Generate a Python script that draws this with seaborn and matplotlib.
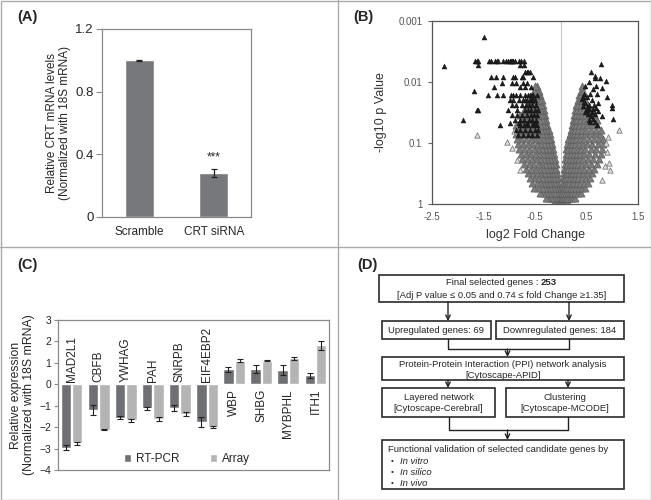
import numpy as np
import pandas as pd
import matplotlib
matplotlib.use('Agg')
import matplotlib.pyplot as plt
import seaborn as sns
from matplotlib.patches import Rectangle

sns.set_style('white')
plt.rcParams['font.family'] = ['Liberation Sans', 'DejaVu Sans']

# ---- panel A : CRT knockdown
a_groups = ['Scramble', 'CRT siRNA']
a_values = [1.0, 0.28]
a_err = [0.003, 0.025]

# ---- panel B : volcano plot (x = log2 fold change, y = -log10 p)
# significant genes (dark triangles)
sig_x = [-1.49, -2.26, -1.89, -1.61, -1.68,
         -1.67, -1.63, -1.60, -1.39, -1.35, -1.28, -1.24, -1.21, -1.12, -1.06, -1.02, -0.99, -0.97, -0.95,
         -0.93, -0.89, -0.82, -0.78, -0.71,
         -1.60, -0.80, -0.71,
         -0.69, -0.66, -0.63, -0.60,
         -1.36, -1.26, -1.12, -0.92, -0.89, -0.76, -0.73, -0.53,
         -1.15, -0.95, -0.86, -0.74, -0.65,
         -1.30, -0.79, -0.69, -0.58,
         -1.41, -1.23, -1.13, -0.97, -0.93, -0.86, -0.79, -0.69, -0.63, -0.60, -0.56, -0.53, -0.47,
         -0.99, -0.92, -0.81, -0.73, -0.70, -0.66, -0.60, -0.56, -0.53, -0.50,
         -0.95, -0.86, -0.76, -0.68, -0.62, -0.55, -0.49,
         -1.62, -1.02, -0.84, -0.69, -0.63, -0.57, -0.50, -0.45,
         -0.95, -0.84, -0.76, -0.66, -0.58, -0.51, -0.47,
         -0.88, -0.79, -0.71, -0.62, -0.55, -0.48,
         -0.99, -0.82, -0.66, -0.53, -0.50,
         -1.17, -0.79, -0.71, -0.63, -0.53, -0.47,
         -0.86, -0.79, -0.70, -0.60, -0.50, -0.44,
         -0.83, -0.73, -0.64, -0.56, -0.47,
         0.78, 0.59, 0.67, 0.76, 0.87, 0.47, 0.68, 0.46, 0.57, 0.70, 0.89, 0.41, 0.47, 0.54, 0.73,
         0.99, 0.50, 0.60, 0.67, 0.80, 1.02, 0.70, 0.54, 0.99, 0.44, 0.50, 0.55, 0.48, 0.58, 0.62,
         0.52, 0.63, 0.57, 0.66, 0.45, 0.60, 0.64, 0.73, 0.68, 0.50, 0.43, 0.62, 0.66, 0.55, 0.80]
sig_nlp = [2.73, 2.26, 1.37, 1.54, 1.86,
           2.34, 2.34, 2.34, 2.34, 2.34, 2.34, 2.34, 2.34, 2.34, 2.34, 2.34, 2.34, 2.34, 2.34,
           2.34, 2.34, 2.34, 2.34, 2.34,
           2.28, 2.28, 2.28,
           2.17, 2.17, 2.17, 2.17,
           2.08, 2.08, 2.08, 2.08, 2.08, 2.08, 2.08, 2.08,
           1.99, 1.99, 1.99, 1.99, 1.99,
           1.91, 1.91, 1.91, 1.91,
           1.79, 1.79, 1.79, 1.79, 1.79, 1.79, 1.79, 1.79, 1.79, 1.79, 1.79, 1.79, 1.79,
           1.70, 1.70, 1.70, 1.70, 1.70, 1.70, 1.70, 1.70, 1.70, 1.70,
           1.62, 1.62, 1.62, 1.62, 1.62, 1.62, 1.62,
           1.54, 1.54, 1.54, 1.54, 1.54, 1.54, 1.54, 1.54,
           1.46, 1.46, 1.46, 1.46, 1.46, 1.46, 1.46,
           1.38, 1.38, 1.38, 1.38, 1.38, 1.38,
           1.33, 1.33, 1.33, 1.33, 1.33,
           1.29, 1.29, 1.29, 1.29, 1.29, 1.29,
           1.21, 1.21, 1.21, 1.21, 1.21, 1.21,
           1.13, 1.13, 1.13, 1.13, 1.13,
           2.30, 2.17, 2.06, 2.06, 2.02, 1.94, 1.94, 1.81, 1.81, 1.81, 1.76, 1.72, 1.66, 1.63, 1.66,
           1.63, 1.54, 1.51, 1.48, 1.44, 1.39, 1.30, 1.38, 1.58, 1.60, 1.58, 1.56, 1.50, 1.45, 1.55,
           1.47, 1.40, 1.35, 1.34, 1.68, 1.70, 1.62, 1.52, 1.57, 1.75, 1.76, 1.89, 2.10, 2.00, 1.90]

# non-significant genes: one row of x positions per -log10 p level
gray_nlp = [0.03, 0.10, 0.18, 0.26, 0.34, 0.42, 0.50, 0.58, 0.66, 0.74, 0.82, 0.90, 0.98,
            1.06, 1.14, 1.22, 1.30, 1.38, 1.46, 1.54, 1.62, 1.70, 1.78, 1.86, 1.94]
gray_left = [
    [-0.01, -0.03, -0.05, -0.07, -0.10, -0.13],
    [-0.02, -0.05, -0.08, -0.11, -0.15, -0.19, -0.24, -0.29],
    [-0.03, -0.06, -0.10, -0.14, -0.18, -0.23, -0.28, -0.34, -0.41],
    [-0.04, -0.08, -0.12, -0.16, -0.21, -0.26, -0.31, -0.37, -0.44, -0.52],
    [-0.05, -0.09, -0.13, -0.18, -0.23, -0.28, -0.34, -0.40, -0.47, -0.56],
    [-0.06, -0.10, -0.15, -0.20, -0.25, -0.31, -0.37, -0.44, -0.51, -0.60],
    [-0.08, -0.12, -0.17, -0.22, -0.27, -0.33, -0.40, -0.47, -0.55, -0.64],
    [-0.09, -0.13, -0.18, -0.23, -0.29, -0.35, -0.42, -0.50, -0.58, -0.68],
    [-0.10, -0.14, -0.19, -0.25, -0.31, -0.38, -0.45, -0.53, -0.62, -0.72],
    [-0.12, -0.16, -0.21, -0.27, -0.33, -0.40, -0.48, -0.56, -0.65, -0.75],
    [-0.13, -0.18, -0.23, -0.29, -0.35, -0.42, -0.50, -0.59, -0.68, -0.78],
    [-0.15, -0.20, -0.25, -0.31, -0.37, -0.44, -0.52, -0.61, -0.71, -0.81],
    [-0.17, -0.21, -0.27, -0.33, -0.40, -0.47, -0.55, -0.64, -0.74, -0.83],
    [-0.19, -0.23, -0.29, -0.35, -0.42, -0.50, -0.58, -0.67, -0.77, -0.85],
    [-0.21, -0.26, -0.31, -0.37, -0.44, -0.52, -0.60, -0.70, -0.80, -0.87],
    [-0.23, -0.28, -0.33, -0.39, -0.46, -0.54, -0.63, -0.73, -0.83],
    [-0.26, -0.30, -0.35, -0.41, -0.48, -0.56, -0.65, -0.75, -0.86],
    [-0.28, -0.32, -0.37, -0.43, -0.50, -0.58, -0.67, -0.77],
    [-0.30, -0.34, -0.39, -0.45, -0.52, -0.60, -0.69, -0.80],
    [-0.32, -0.36, -0.41, -0.47, -0.54, -0.62, -0.72],
    [-0.35, -0.39, -0.44, -0.50, -0.57, -0.65],
    [-0.37, -0.41, -0.46, -0.52, -0.60],
    [-0.40, -0.44, -0.49, -0.55],
    [-0.43, -0.47, -0.52],
    [-0.46, -0.50]]
gray_right = [
    [0.01, 0.03, 0.05, 0.08, 0.11, 0.14],
    [0.02, 0.05, 0.08, 0.11, 0.15, 0.19, 0.23, 0.28],
    [0.03, 0.06, 0.10, 0.14, 0.18, 0.22, 0.27, 0.33, 0.39],
    [0.04, 0.07, 0.11, 0.15, 0.19, 0.24, 0.29, 0.35, 0.42, 0.47],
    [0.04, 0.08, 0.12, 0.16, 0.21, 0.26, 0.32, 0.38, 0.45, 0.53],
    [0.05, 0.09, 0.13, 0.18, 0.23, 0.28, 0.34, 0.41, 0.49, 0.57],
    [0.06, 0.10, 0.14, 0.19, 0.24, 0.30, 0.36, 0.43, 0.51, 0.60],
    [0.07, 0.11, 0.15, 0.20, 0.26, 0.32, 0.38, 0.46, 0.55, 0.65],
    [0.08, 0.12, 0.17, 0.22, 0.28, 0.34, 0.41, 0.49, 0.58, 0.70],
    [0.09, 0.13, 0.18, 0.23, 0.29, 0.36, 0.44, 0.52, 0.62, 0.74],
    [0.10, 0.14, 0.19, 0.25, 0.31, 0.38, 0.46, 0.55, 0.66, 0.78],
    [0.11, 0.15, 0.20, 0.26, 0.33, 0.40, 0.48, 0.58, 0.69, 0.80],
    [0.13, 0.17, 0.22, 0.28, 0.35, 0.43, 0.51, 0.61, 0.72, 0.82],
    [0.15, 0.19, 0.24, 0.30, 0.37, 0.45, 0.54, 0.64, 0.75, 0.83],
    [0.17, 0.21, 0.26, 0.32, 0.39, 0.47, 0.56, 0.66, 0.76],
    [0.19, 0.23, 0.28, 0.34, 0.41, 0.49, 0.58, 0.68, 0.78],
    [0.21, 0.25, 0.30, 0.36, 0.43, 0.51, 0.60, 0.70],
    [0.23, 0.27, 0.32, 0.38, 0.45, 0.53, 0.62, 0.71],
    [0.26, 0.30, 0.35, 0.41, 0.48, 0.56, 0.64],
    [0.28, 0.32, 0.37, 0.43, 0.50, 0.58],
    [0.30, 0.34, 0.39, 0.45, 0.52],
    [0.33, 0.37, 0.42, 0.48],
    [0.36, 0.40, 0.45],
    [0.39, 0.43],
    [0.42]]
# scattered non-significant outliers (open triangles)
out_x = [-1.63, -1.05, -0.90, -0.95, -0.85, -0.80, 1.14, 0.93, 0.95, 0.90, 0.87, 0.92, 0.85, 0.80]
out_nlp = [1.13, 1.02, 1.20, 0.92, 0.72, 0.55, 1.22, 0.67, 0.55, 0.85, 1.00, 1.10, 0.62, 0.40]

# ---- panel C : validation RT-PCR vs array
c_genes = ['MAD2L1', 'CBFB', 'YWHAG', 'PAH', 'SNRPB', 'EIF4EBP2', 'WBP', 'SHBG', 'MYBPHL', 'ITH1']
c_rtpcr = [-2.95, -1.2, -1.55, -1.12, -1.1, -1.75, 0.7, 0.7, 0.67, 0.42]
c_rtpcr_err = [0.1, 0.22, 0.06, 0.07, 0.15, 0.22, 0.13, 0.18, 0.22, 0.12]
c_array = [-2.75, -2.12, -1.68, -1.6, -1.37, -2.0, 1.09, 1.1, 1.21, 1.82]
c_array_err = [0.07, 0.03, 0.08, 0.09, 0.1, 0.06, 0.07, 0.02, 0.08, 0.2]

# ---- panel D : workflow text
d_title = 'Final selected genes :'
d_count = '253'
d_criteria = '[Adj P value \u2264 0.05 and 0.74 \u2264 fold Change \u22651.35]'
d_up = 'Upregulated genes: 69'
d_down = 'Downregulated genes: 184'
d_ppi = ['Protein-Protein Interaction (PPI) network analysis', '[Cytoscape-APID]']
d_layer = ['Layered network', '[Cytoscape-Cerebral]']
d_clust = ['Clustering', '[Cytoscape-MCODE]']
d_valid = 'Functional validation of selected candidate genes by'
d_methods = ['In vitro', 'In silico', 'In vivo']

DARK = '#6f7073'
LIGHT = '#b4b4b4'
FRAME = '#8a8a8a'

fig = plt.figure(figsize=(6.51, 5.0), dpi=100)

# ================= A
axA = fig.add_axes([102/651, 1-217/500, 149/651, 188/500])
dfA = pd.DataFrame({'group': a_groups, 'value': a_values})
sns.barplot(data=dfA, x='group', y='value', color='#77787b', width=0.39,
            errorbar=None, saturation=1, ax=axA)
axA.errorbar(range(len(a_groups)), a_values, yerr=a_err, fmt='none',
             ecolor='#222222', elinewidth=0.9, capsize=2.5, capthick=0.9)
axA.text(1, a_values[1] + a_err[1] + 0.035, '***', ha='center', va='bottom', fontsize=8.5)
axA.set_ylim(0, 1.2)
axA.set_xlim(-0.5, 1.5)
axA.set_yticks([0, 0.4, 0.8, 1.2])
axA.set_yticklabels(['0', '0.4', '0.8', '1.2'])
axA.tick_params(axis='y', left=True, length=4, color=FRAME, labelsize=9.5, pad=2)
axA.tick_params(axis='x', bottom=False, labelsize=8.5, pad=3)
axA.set_xlabel('')
axA.set_ylabel('Relative CRT mRNA levels\n(Normalized with 18S mRNA)', fontsize=8.5,
               labelpad=3, linespacing=1.15)
for s in axA.spines.values():
    s.set_color(FRAME)
    s.set_linewidth(0.9)

# ================= B
axB = fig.add_axes([432/651, 1-204/500, 206/651, 183/500])
rows = []
for nlp, lx, rx in zip(gray_nlp, gray_left, gray_right):
    for x in lx + rx:
        rows.append((x, nlp))
dfGray = pd.DataFrame(rows, columns=['fc', 'nlp'])
dfOut = pd.DataFrame({'fc': out_x, 'nlp': out_nlp})
dfSig = pd.DataFrame({'fc': sig_x, 'nlp': sig_nlp})
axB.axvline(0, color='#c8c8c8', lw=0.8, zorder=0)
sns.scatterplot(data=dfGray, x='fc', y='nlp', marker='^', s=26, color='#7c7c7c',
                edgecolor='#5e5e5e', linewidth=0.5, ax=axB, zorder=2)
sns.scatterplot(data=dfOut, x='fc', y='nlp', marker='^', s=15, color='#e0e0e0',
                edgecolor='#7a7a7a', linewidth=0.6, ax=axB, zorder=2)
sns.scatterplot(data=dfSig, x='fc', y='nlp', marker='^', s=13, color='#1e1e1e',
                edgecolor='#111111', linewidth=0.3, ax=axB, zorder=3)
axB.set_xlim(-2.5, 1.5)
axB.set_ylim(0, 3)
axB.set_xticks([-2.5, -1.5, -0.5, 0.5, 1.5])
axB.set_xticklabels(['-2.5', '-1.5', '-0.5', '0.5', '1.5'])
axB.set_yticks([0, 1, 2, 3])
axB.set_yticklabels(['1', '0.1', '0.01', '0.001'])
axB.tick_params(axis='both', labelsize=7, labelcolor='#555555', length=0, pad=6)
axB.tick_params(axis='y', left=True, length=3, color='#666666', pad=4)
axB.set_xlabel('log2 Fold Change', fontsize=9, color='#333333', labelpad=5)
axB.set_ylabel('-log10 p Value', fontsize=9, color='#333333', labelpad=8)
for s in axB.spines.values():
    s.set_color('#555555')
    s.set_linewidth(0.9)

# ================= C
axC = fig.add_axes([58/651, 1-470/500, 271/651, 150/500])
dfC = pd.DataFrame({
    'gene': c_genes * 2,
    'value': c_rtpcr + c_array,
    'method': ['RT-PCR'] * len(c_genes) + ['Array'] * len(c_genes)})
sns.barplot(data=dfC, x='gene', y='value', hue='method', palette=[DARK, LIGHT],
            width=0.84, gap=0.08, errorbar=None, saturation=1, ax=axC)
for cont, vals, err in zip(axC.containers, [c_rtpcr, c_array], [c_rtpcr_err, c_array_err]):
    xs = [b.get_x() + b.get_width() / 2 for b in cont]
    axC.errorbar(xs, vals, yerr=err, fmt='none', ecolor='#222222',
                 elinewidth=0.8, capsize=2, capthick=0.8)
for i, (g, v) in enumerate(zip(c_genes, c_rtpcr)):
    if v < 0:
        axC.text(i, 0.12, g, rotation=90, ha='center', va='bottom', fontsize=8.5)
    else:
        axC.text(i, -0.22, g, rotation=90, ha='center', va='top', fontsize=8.5)
axC.set_ylim(-4, 3)
axC.set_xlim(-0.5, 9.5)
axC.set_yticks(range(-4, 4))
axC.tick_params(axis='y', left=True, length=3, color=FRAME, labelsize=7.5, pad=2)
axC.set_xticks([])
axC.set_xlabel('')
axC.set_ylabel('Relative expression\n(Normalized with 18S mRNA)', fontsize=8.8,
               labelpad=3, linespacing=1.1)
axC.legend(loc='lower center', bbox_to_anchor=(0.475, -0.04), ncol=2, frameon=False,
           fontsize=8.5, handlelength=0.6, handleheight=0.6, handletextpad=0.4,
           columnspacing=2.6)
for s in axC.spines.values():
    s.set_color(FRAME)
    s.set_linewidth(0.9)

# ================= overlay: panel borders, labels, flowchart D
ov = fig.add_axes([0, 0, 1, 1])
ov.set_xlim(0, 651)
ov.set_ylim(500, 0)
ov.axis('off')
ov.patch.set_alpha(0)
border = '#aaaaaa'
ov.add_patch(Rectangle((0.5, 0.5), 650, 499, fill=False, ec=border, lw=1))
ov.plot([338, 338], [0, 500], color=border, lw=1)
ov.plot([0, 651], [247, 247], color=border, lw=1)
for lab, x, y in [('(A)', 27, 17), ('(B)', 363, 17), ('(C)', 27, 265), ('(D)', 367, 265)]:
    ov.text(x, y, lab, ha='center', va='center', fontsize=10.5, weight='bold')

BOX = dict(fill=False, ec='#2a2a2a', lw=1.2)
def box(x0, y0, x1, y1):
    ov.add_patch(Rectangle((x0, y0), x1 - x0, y1 - y0, **BOX))

def arrow(x, y0, y1):
    ov.annotate('', xy=(x, y1), xytext=(x, y0),
                arrowprops=dict(arrowstyle='->', color='#222222', lw=1,
                                shrinkA=0, shrinkB=0, mutation_scale=8))

dfs = 6.8
box(379, 275, 624, 302)
ov.text(538, 282.5, d_title, ha='right', va='center', fontsize=dfs)
ov.text(541, 282.5, d_count, ha='left', va='center', fontsize=dfs, weight='bold')
ov.text(502, 295, d_criteria, ha='center', va='center', fontsize=dfs)
arrow(448, 302, 321)
arrow(569, 302, 321)

box(382, 321, 491, 339)
box(496, 321, 624, 339)
ov.text(436.5, 330.5, d_up, ha='center', va='center', fontsize=dfs)
ov.text(560, 330.5, d_down, ha='center', va='center', fontsize=dfs)
ov.plot([448, 448, 569, 569], [339, 349, 349, 339], color='#222222', lw=1)
arrow(507.5, 349, 357)

box(382, 357, 624, 380)
ov.text(503, 364.5, d_ppi[0], ha='center', va='center', fontsize=dfs)
ov.text(503, 375, d_ppi[1], ha='center', va='center', fontsize=dfs)
arrow(448, 380, 388)
arrow(568, 380, 388)

box(382, 388, 495, 417)
box(506, 388, 624, 417)
ov.text(438.5, 397, d_layer[0], ha='center', va='center', fontsize=dfs)
ov.text(438.5, 408.5, d_layer[1], ha='center', va='center', fontsize=dfs)
ov.text(565, 397, d_clust[0], ha='center', va='center', fontsize=dfs)
ov.text(565, 408.5, d_clust[1], ha='center', va='center', fontsize=dfs)
ov.plot([449, 449, 568, 568], [417, 430, 430, 417], color='#222222', lw=1)
arrow(507.5, 430, 440)

box(382, 440, 624, 489)
ov.text(388, 449, d_valid, ha='left', va='center', fontsize=dfs)
for k, m in enumerate(d_methods):
    yy = 461 + k * 11.3
    ov.text(392, yy, '\u2022', ha='center', va='center', fontsize=dfs - 1)
    ov.text(400, yy, m, ha='left', va='center', fontsize=dfs, style='italic')

fig.savefig('out.png', dpi=100)
